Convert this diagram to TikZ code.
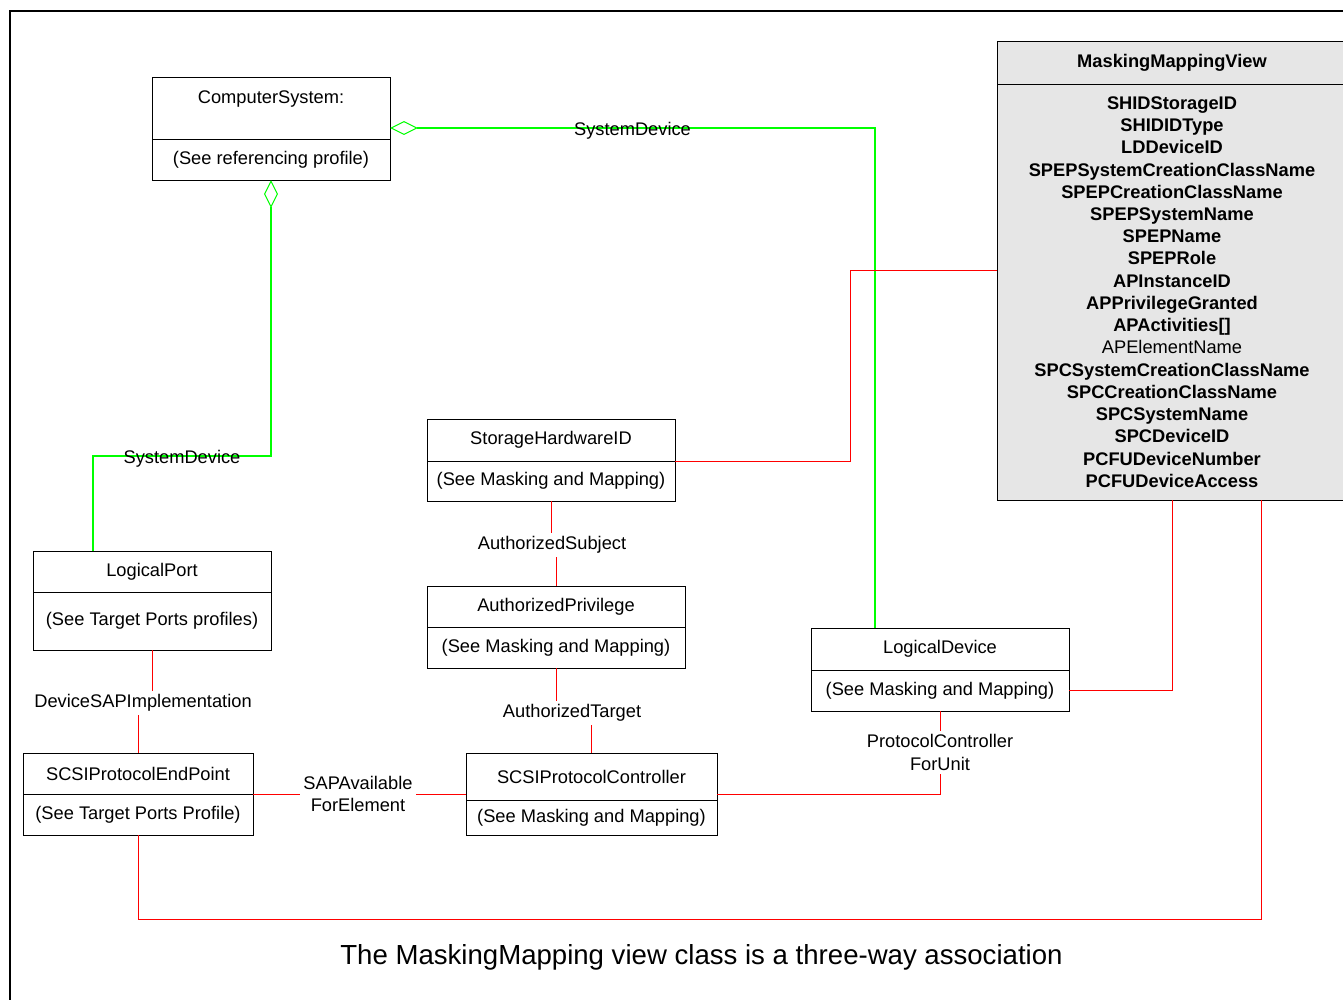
\documentclass[tikz,border=0pt]{standalone}
\usepackage{fontspec}
\setmainfont{Liberation Sans}
\usepackage{tikz}
\usetikzlibrary{shapes,arrows.meta}
\usetikzlibrary{positioning}
\definecolor{viewgray}{RGB}{230,230,230}
\newcommand{\boxfont}{\fontsize{10.4}{12.65}\selectfont}
\tikzstyle{block} = [rectangle, draw, fill=white, line width=0.5pt, inner sep=0pt, outer sep=0pt, align=center, font=\boxfont]
\tikzstyle{assoc} = [draw=red, line width=0.55pt]
\tikzstyle{agg} = [draw=green, line width=0.6pt, {Diamond[open,length=15.9pt,width=7.9pt]}-]
\tikzstyle{lbl} = [fill=white, inner sep=2pt, align=center, font=\boxfont]
\tikzstyle{glbl} = [inner sep=0pt, font=\boxfont, text=black, yshift=-0.05cm]

\begin{document}
\begin{tikzpicture}
   \useasboundingbox (0,0) rectangle (26.86,-20);
   \draw[line width=1.2pt] (0.2,-20) -- (0.2,-0.22) -- (26.86,-0.22);

   % Place nodes
   \node [block, minimum width=4.76cm, minimum height=1.24cm] (cs) at (5.42,-2.16) {ComputerSystem:\\\mbox{}};
   \node [block, minimum width=4.76cm, minimum height=0.82cm, below=0pt of cs] (cs-n) {(See referencing profile)};

   \node [block, fill=viewgray, font=\boxfont\bfseries, minimum width=7cm, minimum height=0.86cm] (mmv) at (23.44,-1.25) {MaskingMappingView};
   \node [block, fill=viewgray, font=\boxfont\bfseries, minimum width=7cm, minimum height=8.32cm, below=0pt of mmv] (mmv-b) {SHIDStorageID\\ SHIDIDType\\ LDDeviceID\\ SPEPSystemCreationClassName\\ SPEPCreationClassName\\ SPEPSystemName\\ SPEPName\\ SPEPRole\\ APInstanceID\\ APPrivilegeGranted\\ APActivities[]\\ {\mdseries APElementName}\\ SPCSystemCreationClassName\\ SPCCreationClassName\\ SPCSystemName\\ SPCDeviceID\\ PCFUDeviceNumber\\ PCFUDeviceAccess};

   \node [block, minimum width=4.96cm, minimum height=0.84cm] (shid) at (11.02,-8.8) {StorageHardwareID};
   \node [block, minimum width=4.96cm, minimum height=0.8cm, below=0pt of shid] (shid-n) {(See Masking and Mapping)};

   \node [block, minimum width=5.16cm, minimum height=0.82cm] (ap) at (11.12,-12.13) {AuthorizedPrivilege};
   \node [block, minimum width=5.16cm, minimum height=0.82cm, below=0pt of ap] (ap-n) {(See Masking and Mapping)};

   \node [block, minimum width=4.76cm, minimum height=0.82cm] (lp) at (3.04,-11.43) {LogicalPort};
   \node [block, minimum width=4.76cm, minimum height=1.16cm, below=0pt of lp] (lp-n) {(See Target Ports profiles)};

   \node [block, minimum width=4.6cm, minimum height=0.82cm] (spep) at (2.76,-15.47) {SCSIProtocolEndPoint};
   \node [block, minimum width=4.6cm, minimum height=0.82cm, below=0pt of spep] (spep-n) {(See Target Ports Profile)};

   \node [block, minimum width=5.02cm, minimum height=0.94cm] (spc) at (11.83,-15.53) {SCSIProtocolController};
   \node [block, minimum width=5.02cm, minimum height=0.7cm, below=0pt of spc] (spc-n) {(See Masking and Mapping)};

   \node [block, minimum width=5.16cm, minimum height=0.84cm] (ld) at (18.8,-12.98) {LogicalDevice};
   \node [block, minimum width=5.16cm, minimum height=0.82cm, below=0pt of ld] (ld-n) {(See Masking and Mapping)};

   % association names
   \node [lbl] (asub) at (11.04,-10.9) {AuthorizedSubject};
   \node [lbl] (atgt) at (11.44,-14.26) {AuthorizedTarget};
   \node [lbl] (dsap) at (2.86,-14.06) {DeviceSAPImplementation};
   \node [lbl] (sapfe) at (7.16,-15.88) {SAPAvailable\\ForElement};
   \node [lbl] (pcfu) at (18.8,-15.05) {ProtocolController\\ForUnit};

   % aggregations
   \draw[agg] ([yshift=-0.4cm]cs.east) -| node [glbl, pos=0.25] (sd1) {SystemDevice} ([xshift=-1.3cm]ld.north);
   \draw[agg] (cs-n.south) -- ++(0,-5.52) -| node [glbl, pos=0.25] (sd2) {SystemDevice} ([xshift=-1.18cm]lp.north);

   % associations
   \draw[assoc] (shid.south east) -- ++(3.5,0) |- ([yshift=0.44cm]mmv-b.west);
   \draw[assoc] (shid-n.south) -- (shid-n.south |- asub.north);
   \draw[assoc] (asub.south -| ap.north) -- (ap.north);
   \draw[assoc] (ap-n.south) -- (ap-n.south |- atgt.north);
   \draw[assoc] (atgt.south -| spc.north) -- (spc.north);
   \draw[assoc] (lp-n.south) -- (lp-n.south |- dsap.north);
   \draw[assoc] (dsap.south -| spep.north) -- (spep.north);
   \draw[assoc] (spep.south east) -- (sapfe.west |- spep.south east);
   \draw[assoc] (sapfe.east |- spep.south east) -- (spc.west |- spep.south east);
   \draw[assoc] (ld-n.south) -- (pcfu.north);
   \draw[assoc] (pcfu.south) |- (spc.east |- spep.south east);
   \draw[assoc] (ld-n.east) -| (mmv-b.south);
   \draw[assoc] (spep-n.south) -- ++(0,-1.68) -| ([xshift=1.78cm]mmv-b.south);

   \node (cap) at (14.03,-19.14) {\fontsize{15.7}{18}\selectfont The MaskingMapping view class is a three-way association};
\end{tikzpicture}
\end{document}
